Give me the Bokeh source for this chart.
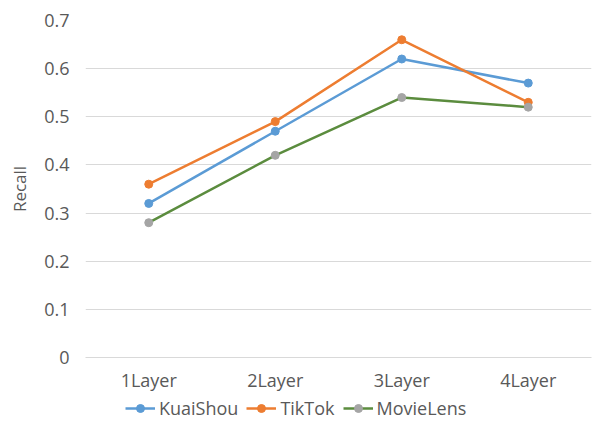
from bokeh.plotting import figure
from bokeh.layouts import column
from bokeh.models import FactorRange, Range1d, FixedTicker, Legend, LegendItem
from bokeh.embed import file_html
from bokeh.resources import INLINE

categories = ["1Layer", "2Layer", "3Layer", "4Layer"]
kuaishou = [0.32, 0.47, 0.62, 0.57]
tiktok = [0.36, 0.49, 0.66, 0.53]
movielens = [0.28, 0.42, 0.54, 0.52]
y_ticks = [0, 0.1, 0.2, 0.3, 0.4, 0.5, 0.6, 0.7]
y_tick_labels = ["0", "0.1", "0.2", "0.3", "0.4", "0.5", "0.6", "0.7"]

FONT = "Open Sans"
TXT = "#595959"
FS = "18px"

p = figure(width=592, height=394, x_range=FactorRange(*categories),
           y_range=Range1d(0, 0.7), output_backend="svg", toolbar_location=None,
           min_border_left=85, min_border_right=1, min_border_top=20, min_border_bottom=30)
p.outline_line_color = None
p.background_fill_color = "white"
p.border_fill_color = "white"

p.xgrid.grid_line_color = None
p.ygrid.grid_line_color = "#d9d9d9"
p.ygrid.grid_line_width = 1
p.yaxis.ticker = FixedTicker(ticks=y_ticks)
p.yaxis.major_label_overrides = {t: l for t, l in zip(y_ticks, y_tick_labels)}
p.yaxis.axis_line_color = None
p.yaxis.major_tick_line_color = None
p.yaxis.minor_tick_line_color = None
p.yaxis.axis_label = "Recall"
p.yaxis.axis_label_text_font = FONT
p.yaxis.axis_label_text_font_style = "normal"
p.yaxis.axis_label_text_font_size = "17px"
p.yaxis.axis_label_text_color = TXT
p.yaxis.axis_label_standoff = 10
p.yaxis.major_label_text_font = FONT
p.yaxis.major_label_text_font_size = FS
p.yaxis.major_label_text_color = TXT
p.yaxis.major_label_standoff = 10

p.xaxis.axis_line_color = "#d9d9d9"
p.xaxis.major_tick_line_color = None
p.xaxis.minor_tick_line_color = None
p.xaxis.major_label_text_font = FONT
p.xaxis.major_label_text_font_size = FS
p.xaxis.major_label_text_color = TXT
p.xaxis.major_label_standoff = 4

series = [
    ("KuaiShou", kuaishou, "#5B9BD5", "#5B9BD5"),
    ("TikTok", tiktok, "#ED7D31", "#ED7D31"),
    ("MovieLens", movielens, "#5B8C3E", "#A5A5A5"),
]

# legend strip: same series drawn outside its visible y range, only the legend shows
p2 = figure(width=592, height=45, output_backend="svg", toolbar_location=None,
            min_border=0, x_range=FactorRange(*categories), y_range=Range1d(10, 11))
p2.axis.visible = False
p2.grid.visible = False
p2.outline_line_color = None
p2.border_fill_color = "white"
p2.background_fill_color = "white"

items = []
for name, vals, lc, mc in series:
    p.line(categories, vals, line_color=lc, line_width=2.5)
    p.scatter(categories, vals, size=8, fill_color=mc, line_color=mc)
    l2 = p2.line(categories, vals, line_color=lc, line_width=2.5)
    s2 = p2.scatter(categories, vals, size=8, fill_color=mc, line_color=mc)
    items.append(LegendItem(label=name, renderers=[l2, s2]))

legend = Legend(items=items, orientation="horizontal", location=(40, 19),
                label_text_font=FONT, label_text_font_size=FS, label_text_color=TXT,
                border_line_color=None, background_fill_alpha=0, glyph_width=30,
                spacing=8, label_standoff=4, margin=0, padding=0)
p2.add_layout(legend, "center")

open("out.html", "w").write(file_html(column(p, p2, spacing=0), INLINE))
